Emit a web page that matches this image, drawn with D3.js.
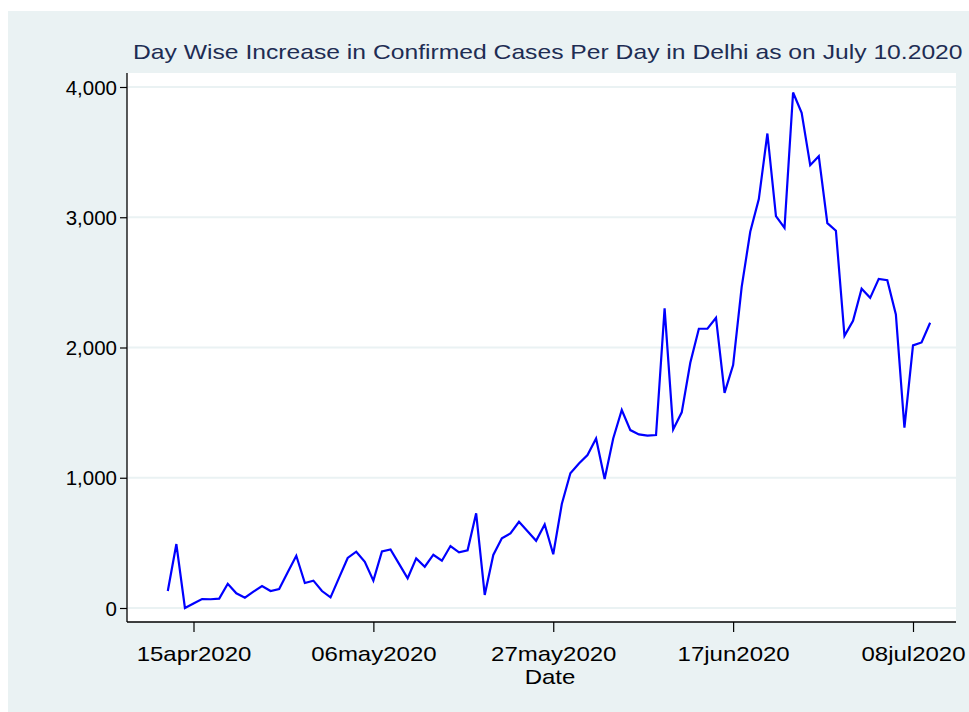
<!DOCTYPE html>
<html>
<head>
<meta charset="utf-8">
<script src="https://cdn.jsdelivr.net/npm/d3@7"></script>
<style>
  body { margin: 0; background: #ffffff; }
  svg text { font-family: "Liberation Sans", Arial, sans-serif; }
</style>
</head>
<body>
<svg id="chart"></svg>
<script>
// day-wise new confirmed cases, Delhi, 12 Apr .. 10 Jul 2020
var startDay = "12apr2020";
var endDay = "10jul2020";
var cases = [
  130, 491, 0, 35, 69, 67, 72, 186, 113, 79, 125, 169, 130, 146, 274, 401, 192, 210, 130,
  82, 233, 384, 432, 355, 210, 435, 450, 339, 228, 381, 317, 409, 363, 476, 427, 443, 727,
  100, 407, 535, 573, 662, 589, 516, 642, 413, 798, 1034, 1110, 1174,
  1302, 990, 1302, 1520, 1366, 1333, 1323, 1328, 2300, 1371, 1502, 1883, 2144, 2144, 2228,
  1652, 1865, 2466, 2888, 3139, 3643, 3008, 2919, 3958, 3801, 3400, 3469, 2955, 2896, 2090,
  2205, 2451, 2381, 2527, 2517, 2254, 1384, 2016, 2039, 2190
];
var xTickLabels = ["15apr2020", "06may2020", "27may2020", "17jun2020", "08jul2020"];
var yTicks = [0, 1000, 2000, 3000, 4000];
var title = "Day Wise Increase in Confirmed Cases Per Day in Delhi as on July 10.2020";
var xTitle = "Date";

var width = 969, height = 712;
var stretch = 1.2; // picture was widened, text looks wide too
var plot = {left: 127, right: 956, top: 73, bottom: 622};

var parse = d3.timeParse("%d%b%Y");
var fmt = d3.timeFormat("%d%b%Y");
var days = d3.timeDay.range(parse(startDay), d3.timeDay.offset(parse(endDay), 1));
var data = days.map(function(d, i) { return {date: d, value: cases[i]}; });

var svg = d3.select("#chart").attr("width", width).attr("height", height);

svg.append("rect").attr("x", 8).attr("y", 11).attr("width", width - 8).attr("height", height - 11)
  .attr("fill", "#eaf2f3");
svg.append("rect").attr("x", plot.left).attr("y", plot.top)
  .attr("width", plot.right - plot.left).attr("height", plot.bottom - plot.top)
  .attr("fill", "#ffffff");

var x = d3.scaleTime()
  .domain([parse(xTickLabels[0]), parse(xTickLabels[xTickLabels.length - 1])])
  .range([193.5, 913]);
var y = d3.scaleLinear().domain([0, 4000]).range([608, 87]);

// grid
svg.append("g").selectAll("line").data(yTicks).enter().append("line")
  .attr("x1", plot.left + 1).attr("x2", plot.right)
  .attr("y1", function(d) { return y(d); }).attr("y2", function(d) { return y(d); })
  .attr("stroke", "#eaf2f3").attr("stroke-width", 2);

// y axis
var yAxis = svg.append("g").attr("transform", "translate(" + plot.left + ",0)")
  .call(d3.axisLeft(y).tickValues(yTicks).tickFormat(d3.format(",")).tickSize(7));
yAxis.select(".domain").attr("d", "M0," + plot.top + "V" + plot.bottom).attr("stroke", "#000").attr("stroke-width", 1.3);
yAxis.selectAll(".tick line").attr("stroke", "#000").attr("stroke-width", 1.2);
yAxis.selectAll(".tick text")
  .attr("font-size", 20.5).attr("fill", "#000").attr("x", -10).attr("dy", 7);

// x axis
var xAxis = svg.append("g").attr("transform", "translate(0," + plot.bottom + ")")
  .call(d3.axisBottom(x).tickValues(xTickLabels.map(parse))
    .tickFormat(function(d) { return fmt(d).toLowerCase(); }).tickSize(10));
xAxis.select(".domain").attr("d", "M" + plot.left + ",0H" + plot.right).attr("stroke", "#000").attr("stroke-width", 1.3);
xAxis.selectAll(".tick line").attr("stroke", "#000").attr("stroke-width", 1.2);
xAxis.selectAll(".tick text")
  .attr("font-size", 20).attr("fill", "#000").attr("y", null).attr("dy", null)
  .attr("transform", "translate(0,39) scale(" + stretch + ",1)");

svg.append("text").attr("text-anchor", "middle").attr("font-size", 20).attr("fill", "#000")
  .attr("transform", "translate(550,684) scale(" + stretch + ",1)").text(xTitle);

svg.append("text").attr("text-anchor", "start").attr("font-size", 21).attr("fill", "#1e2d53")
  .attr("transform", "translate(133,59) scale(1.175,1)").text(title);

// line
var line = d3.line().x(function(d) { return x(d.date); }).y(function(d) { return y(d.value); });
svg.append("path").datum(data).attr("d", line)
  .attr("fill", "none").attr("stroke", "#0000ff").attr("stroke-width", 2.2).attr("stroke-linejoin", "miter");
</script>
</body>
</html>
